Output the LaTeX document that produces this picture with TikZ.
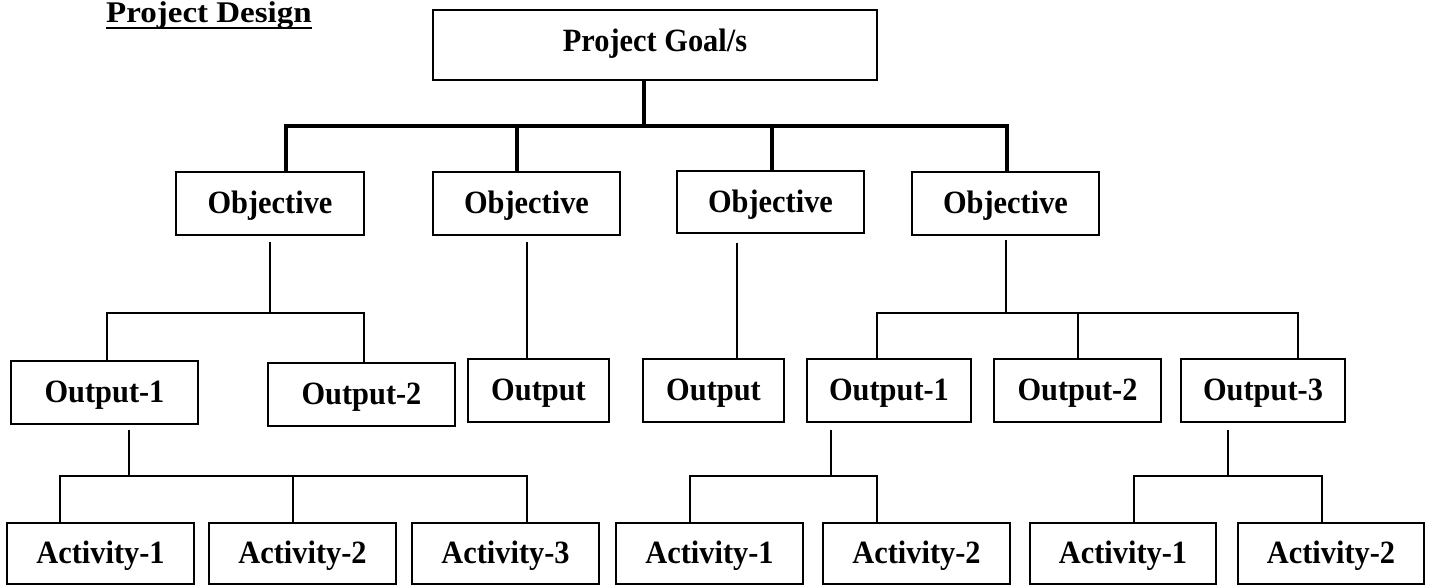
\documentclass[tikz,border=0pt]{standalone}
\usepackage{fontspec}
\setmainfont{Liberation Serif}[FakeStretch=0.935]
\newfontfamily\titlefont{Liberation Serif}[FakeStretch=1.1]
\begin{document}
\begin{tikzpicture}[x=1pt,y=-1pt,
  box/.style={draw,line width=1.8pt,inner sep=0pt,minimum height=63pt,
    text height=25pt,text depth=4.5pt,
    font=\fontsize{32.5}{38}\selectfont\bfseries},
  link/.style={line width=1.5pt},
  trunk/.style={line width=3.5pt}]
\useasboundingbox (0,0) rectangle (1430,585);
\node[anchor=base west,inner sep=0pt,font=\titlefont\fontsize{30}{36}\selectfont\bfseries] (title) at (106,23) {Project Design};
\draw[line width=2pt] ([yshift=-5pt]title.base west) -- ([yshift=-5pt]title.base east);
% goal and objectives
\node[box,minimum width=444pt,minimum height=70pt,text height=20pt,text depth=6.9pt] (goal) at (655,45) {Project Goal/s};
\node[box,minimum width=188pt] (obj1) at (270,203.5) {Objective};
\node[box,minimum width=187pt] (obj2) at (526.5,203.5) {Objective};
\node[box,minimum width=187pt,minimum height=62pt] (obj3) at (770.5,202) {Objective};
\node[box,minimum width=187pt] (obj4) at (1005.5,203.5) {Objective};
% outputs
\node[box,minimum width=187pt] (outA1) at (104.5,392.5) {Output-1};
\node[box,minimum width=187pt] (outA2) at (361.5,394.5) {Output-2};
\node[box,minimum width=141pt] (outB) at (538.5,390.5) {Output};
\node[box,minimum width=141pt] (outC) at (713.5,390.5) {Output};
\node[box,minimum width=164pt] (outD1) at (889,390.5) {Output-1};
\node[box,minimum width=167pt] (outD2) at (1077.5,390.5) {Output-2};
\node[box,minimum width=164pt] (outD3) at (1263,390.5) {Output-3};
% activities
\node[box,minimum width=187pt,minimum height=61pt] (actA1) at (100.5,553.5) {Activity-1};
\node[box,minimum width=187pt,minimum height=61pt] (actA2) at (302.5,553.5) {Activity-2};
\node[box,minimum width=187pt,minimum height=61pt] (actA3) at (505.5,553.5) {Activity-3};
\node[box,minimum width=187pt,minimum height=61pt] (actD1a) at (709.5,553.5) {Activity-1};
\node[box,minimum width=187pt,minimum height=61pt] (actD1b) at (916.5,553.5) {Activity-2};
\node[box,minimum width=186pt,minimum height=61pt] (actD3a) at (1123,553.5) {Activity-1};
\node[box,minimum width=186pt,minimum height=61pt] (actD3b) at (1331,553.5) {Activity-2};
% goal to objectives
\coordinate (g) at (644,126);
\coordinate (g1) at (286,126);
\coordinate (g2) at (517,126);
\coordinate (g3) at (772,126);
\coordinate (g4) at (1007,126);
\draw[trunk] (goal.south -| g) -- (g);
\draw[trunk] (obj1.north -| g1) -- (g1) -- (g4) -- (obj4.north -| g4);
\draw[trunk] (g2) -- (obj2.north -| g2);
\draw[trunk] (g3) -- (obj3.north -| g3);
% objectives to outputs
\coordinate (a0) at (270,242);
\coordinate (a) at (270,313);
\coordinate (a1) at (107,313);
\coordinate (a2) at (364,313);
\draw[link] (a0) -- (a);
\draw[link] (outA1.north -| a1) -- (a1) -- (a2) -- (outA2.north -| a2);
\coordinate (b0) at (527,242);
\draw[link] (b0) -- (outB.north -| b0);
\coordinate (c0) at (737,243);
\draw[link] (c0) -- (outC.north -| c0);
\coordinate (d0) at (1006,240);
\coordinate (d) at (1006,313);
\coordinate (d1) at (877,313);
\coordinate (d2) at (1078,313);
\coordinate (d3) at (1298,313);
\draw[link] (d0) -- (d);
\draw[link] (outD1.north -| d1) -- (d1) -- (d3) -- (outD3.north -| d3);
\draw[link] (d2) -- (outD2.north -| d2);
% outputs to activities
\coordinate (e0) at (129,430);
\coordinate (e) at (129,476);
\coordinate (e1) at (60,476);
\coordinate (e2) at (293,476);
\coordinate (e3) at (527,476);
\draw[link] (e0) -- (e);
\draw[link] (actA1.north -| e1) -- (e1) -- (e3) -- (actA3.north -| e3);
\draw[link] (e2) -- (actA2.north -| e2);
\coordinate (f0) at (831,430);
\coordinate (f) at (831,476);
\coordinate (f1) at (690,476);
\coordinate (f2) at (877,476);
\draw[link] (f0) -- (f);
\draw[link] (actD1a.north -| f1) -- (f1) -- (f2) -- (actD1b.north -| f2);
\coordinate (h0) at (1228,430);
\coordinate (h) at (1228,476);
\coordinate (h1) at (1134,476);
\coordinate (h2) at (1322,476);
\draw[link] (h0) -- (h);
\draw[link] (actD3a.north -| h1) -- (h1) -- (h2) -- (actD3b.north -| h2);
\end{tikzpicture}
\end{document}
